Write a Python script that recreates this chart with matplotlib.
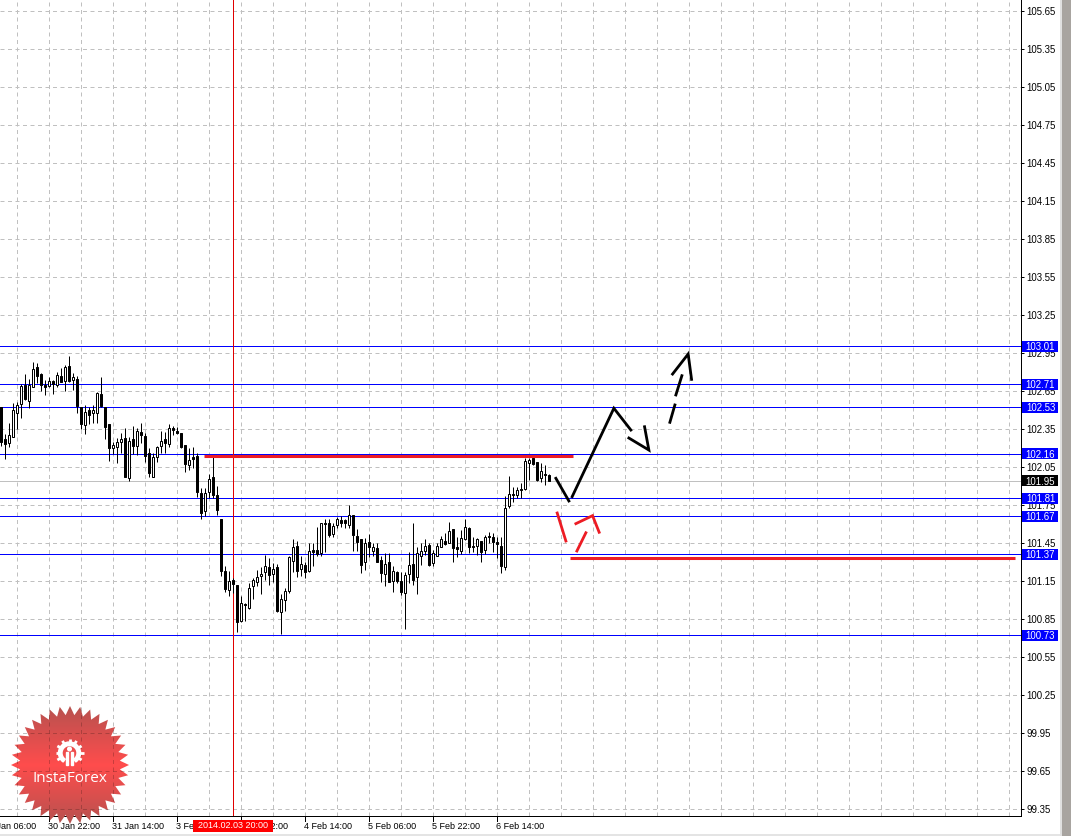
"""
USD/JPY H1 candles with support/resistance levels and forecast arrows
(MetaTrader style screenshot).
"""

import numpy as np
import matplotlib
matplotlib.use("Agg")
import matplotlib.pyplot as plt
from matplotlib.patches import Rectangle, Polygon, Wedge, Circle

# --- Data ---
candle_open = [102.529, 102.276, 102.250, 102.297, 102.487, 102.552, 102.705, 102.581, 102.692, 102.844,
               102.789, 102.705, 102.697, 102.734, 102.702, 102.773, 102.739, 102.852, 102.747, 102.750,
               102.529, 102.392, 102.505, 102.481, 102.487, 102.634, 102.529, 102.395, 102.205, 102.218,
               102.258, 102.289, 101.974, 102.279, 102.221, 102.331, 102.300, 102.166, 101.982, 102.140,
               102.226, 102.276, 102.242, 102.368, 102.342, 102.324, 102.229, 102.071, 102.137, 102.142,
               101.850, 101.713, 101.861, 101.976, 101.834, 101.645, 101.235, 101.090, 101.166, 101.124,
               100.838, 100.977, 100.948, 101.114, 101.153, 101.195, 101.227, 101.266, 101.211, 101.269,
               100.909, 101.006, 101.082, 101.319, 101.432, 101.251, 101.282, 101.240, 101.401, 101.401,
               101.382, 101.614, 101.614, 101.532, 101.603, 101.640, 101.640, 101.603, 101.677, 101.511,
               101.487, 101.306, 101.466, 101.398, 101.416, 101.322, 101.211, 101.306, 101.161, 101.227,
               101.156, 101.059, 101.209, 101.290, 101.185, 101.358, 101.395, 101.440, 101.303, 101.358,
               101.422, 101.471, 101.461, 101.566, 101.424, 101.398, 101.485, 101.574, 101.432, 101.437,
               101.471, 101.401, 101.514, 101.503, 101.464, 101.437, 101.264, 101.753, 101.842, 101.840,
               101.882, 101.884, 102.092, 102.126, 102.095, 101.974, 102.003, 101.992]
candle_high = [102.529, 102.318, 102.403, 102.560, 102.568, 102.710, 102.792, 102.750, 102.884, 102.876,
               102.802, 102.744, 102.765, 102.744, 102.805, 102.842, 102.863, 102.934, 102.797, 102.776,
               102.529, 102.545, 102.534, 102.547, 102.652, 102.765, 102.529, 102.395, 102.258, 102.284,
               102.324, 102.363, 102.292, 102.381, 102.363, 102.403, 102.324, 102.205, 102.166, 102.226,
               102.342, 102.337, 102.395, 102.384, 102.371, 102.329, 102.232, 102.210, 102.218, 102.166,
               101.890, 101.890, 102.000, 102.134, 101.908, 101.645, 101.272, 101.237, 101.180, 101.127,
               101.040, 100.982, 101.140, 101.180, 101.245, 101.266, 101.364, 101.337, 101.303, 101.293,
               101.053, 101.101, 101.351, 101.490, 101.474, 101.356, 101.311, 101.456, 101.456, 101.587,
               101.614, 101.648, 101.648, 101.614, 101.661, 101.671, 101.648, 101.758, 101.677, 101.569,
               101.490, 101.495, 101.529, 101.461, 101.456, 101.351, 101.382, 101.382, 101.279, 101.240,
               101.232, 101.232, 101.390, 101.614, 101.424, 101.456, 101.490, 101.456, 101.403, 101.456,
               101.516, 101.535, 101.621, 101.569, 101.508, 101.561, 101.648, 101.582, 101.508, 101.495,
               101.471, 101.521, 101.548, 101.535, 101.503, 101.503, 101.829, 101.987, 101.903, 101.903,
               101.929, 102.126, 102.126, 102.126, 102.100, 102.092, 102.074, 102.000]
candle_low = [102.224, 102.124, 102.218, 102.297, 102.358, 102.445, 102.587, 102.526, 102.692, 102.723,
              102.658, 102.626, 102.692, 102.631, 102.692, 102.726, 102.660, 102.731, 102.666, 102.487,
              102.360, 102.318, 102.397, 102.408, 102.403, 102.534, 102.279, 102.108, 102.161, 102.092,
              102.171, 101.982, 101.950, 102.158, 102.153, 102.245, 102.100, 101.982, 101.976, 102.100,
              102.166, 102.166, 102.213, 102.310, 102.316, 102.205, 102.021, 102.034, 102.047, 101.824,
              101.648, 101.674, 101.811, 101.811, 101.679, 101.198, 101.074, 101.035, 101.061, 100.756,
              100.832, 100.838, 100.940, 101.019, 101.114, 101.056, 101.166, 101.127, 101.153, 100.909,
              100.740, 100.917, 101.061, 101.232, 101.187, 101.198, 101.182, 101.232, 101.272, 101.351,
              101.351, 101.390, 101.503, 101.503, 101.579, 101.582, 101.574, 101.574, 101.395, 101.395,
              101.224, 101.245, 101.345, 101.356, 101.306, 101.153, 101.114, 101.148, 101.074, 101.140,
              101.043, 100.780, 101.140, 101.127, 101.053, 101.285, 101.364, 101.279, 101.277, 101.351,
              101.422, 101.443, 101.456, 101.311, 101.343, 101.372, 101.482, 101.377, 101.390, 101.364,
              101.311, 101.372, 101.456, 101.390, 101.337, 101.224, 101.245, 101.732, 101.779, 101.811,
              101.811, 101.877, 101.955, 102.074, 101.950, 101.942, 101.916, 101.950]
candle_close = [102.258, 102.242, 102.313, 102.505, 102.545, 102.697, 102.592, 102.702, 102.829, 102.779,
                102.702, 102.692, 102.739, 102.713, 102.781, 102.731, 102.844, 102.739, 102.765, 102.542,
                102.400, 102.489, 102.471, 102.505, 102.639, 102.539, 102.376, 102.210, 102.229, 102.253,
                102.276, 101.982, 102.260, 102.224, 102.339, 102.313, 102.147, 102.013, 102.134, 102.218,
                102.260, 102.250, 102.363, 102.353, 102.329, 102.216, 102.084, 102.111, 102.124, 101.861,
                101.695, 101.850, 101.961, 101.837, 101.721, 101.240, 101.098, 101.156, 101.130, 100.830,
                100.982, 100.964, 101.101, 101.164, 101.187, 101.211, 101.272, 101.201, 101.253, 100.924,
                101.014, 101.077, 101.343, 101.424, 101.240, 101.290, 101.232, 101.393, 101.390, 101.372,
                101.614, 101.608, 101.521, 101.592, 101.645, 101.619, 101.614, 101.682, 101.524, 101.469,
                101.287, 101.456, 101.422, 101.424, 101.308, 101.224, 101.290, 101.153, 101.235, 101.158,
                101.074, 101.206, 101.282, 101.169, 101.377, 101.393, 101.432, 101.287, 101.377, 101.432,
                101.490, 101.453, 101.550, 101.414, 101.411, 101.495, 101.582, 101.422, 101.427, 101.487,
                101.390, 101.503, 101.508, 101.469, 101.453, 101.272, 101.737, 101.842, 101.837, 101.877,
                101.877, 102.103, 102.111, 102.082, 101.955, 102.024, 101.997, 101.950]

level_prices = [103.01, 102.71, 102.53, 102.16, 101.81, 101.67, 101.37, 100.73]
last_price = 101.95

price_ticks = [105.65, 105.35, 105.05, 104.75, 104.45, 104.15, 103.85, 103.55, 103.25, 102.95, 102.65,
               102.35, 102.05, 101.75, 101.45, 101.15, 100.85, 100.55, 100.25, 99.95, 99.65, 99.35]
# the scale labels are rounded, the real grid prices sit a little above them
tick_offset = 0.007

time_tick_pos = [-4, 12, 28, 44, 60, 76, 92, 108, 124]
time_tick_labels = ["30 Jan 06:00", "30 Jan 22:00", "31 Jan 14:00", "3 Feb 06:00", "3 Feb 22:00",
                    "4 Feb 14:00", "5 Feb 06:00", "5 Feb 22:00", "6 Feb 14:00"]

cross_pos = 58
cross_label = "2014.02.03 20:00"

# hand drawn lines, (candle position, price)
red_top_x, red_top_y = [50.67, 142.9], [102.142, 102.142]
red_bottom_x, red_bottom_y = [142.17, 253.4], [101.336, 101.336]

black_strokes = [
    ([138.67, 141.92], [101.968, 101.789]),
    ([142.74, 153.17, 157.42], [101.823, 102.521, 102.349]),
    ([156.92, 161.92, 160.84], [102.286, 102.191, 102.375]),
    ([167.17, 168.42], [102.41, 102.547]),
    ([168.67, 170.17], [102.626, 102.778]),
    ([167.84, 171.74, 172.59], [102.791, 102.949, 102.749]),
]
red_strokes = [
    ([139.0, 141.17], [101.694, 101.473]),
    ([143.92, 146.17], [101.394, 101.538]),
    ([143.67, 147.84, 149.49], [101.61, 101.673, 101.542]),
]

# --- Figure layout (pixels) ---
W, H = 1071, 836
PLOT_R, PLOT_B = 1021, 816
BLUE = "#0000ff"
RED = "#ed1c24"
THIN = 0.72  # one pixel at dpi 100
FONT = "Liberation Sans"
GRID_DASH = (0, (4, 3.5))

fig = plt.figure(figsize=(W / 100, H / 100), dpi=100, facecolor="white")
ax = fig.add_axes([0, (H - PLOT_B) / H, PLOT_R / W, PLOT_B / H])
ax.set_xlim(-0.3, 254.95)
ax.set_ylim(99.302, 105.744)
ax.set_axisbelow(True)

for side in ["top", "left"]:
    ax.spines[side].set_visible(False)
for side in ["right", "bottom"]:
    ax.spines[side].set_linewidth(THIN)

# --- Grid and ticks ---
grid_x = np.arange(4, 255, 8)
grid_y = [v + tick_offset for v in price_ticks]
ax.yaxis.tick_right()
ax.set_yticks(grid_y)
ax.set_yticklabels([f"{v:.2f}" for v in price_ticks], fontsize=6.9, family=FONT)
ax.tick_params(axis="y", length=2.2, width=THIN, pad=1.8)
ax.set_xticks(grid_x)
ax.set_xticklabels([])
ax.tick_params(axis="x", length=0)
ax.grid(True, color="#c0c0c0", linewidth=THIN, linestyle=GRID_DASH)

for pos, label in zip(time_tick_pos, time_tick_labels):
    if pos >= 0:
        ax.plot([pos, pos], [0, -0.006], color="black", lw=THIN, transform=ax.get_xaxis_transform(), clip_on=False)
    ax.text(pos - 0.3, -0.0125, label, transform=ax.get_xaxis_transform(), ha="left", va="center",
            fontsize=6.5, family=FONT, clip_on=False)

# --- Levels ---
ax.axhline(last_price, color="#c0c0c0", lw=THIN, zorder=1)
for p in level_prices:
    ax.axhline(p, color=BLUE, lw=THIN, zorder=1.5)
ax.axvline(cross_pos, color="#e00000", lw=THIN, zorder=1.5)

# --- Candles ---
xs = np.arange(len(candle_open))
o = np.array(candle_open)
c = np.array(candle_close)
ax.vlines(xs, candle_low, candle_high, color="black", lw=THIN, zorder=2)
ax.bar(xs, np.abs(c - o), bottom=np.minimum(o, c), width=0.5,
       color=["white" if cl > op else "black" for op, cl in zip(o, c)],
       edgecolor="black", linewidth=THIN, zorder=3)

# --- Hand drawn lines ---
ax.plot(red_top_x, red_top_y, color=RED, lw=2.2, solid_capstyle="butt", zorder=4)
ax.plot(red_bottom_x, red_bottom_y, color=RED, lw=2.2, solid_capstyle="butt", zorder=4)
for sx, sy in black_strokes:
    ax.plot(sx, sy, color="black", lw=2.0, solid_joinstyle="miter", zorder=4)
for sx, sy in red_strokes:
    ax.plot(sx, sy, color=RED, lw=2.0, solid_joinstyle="miter", zorder=4)

# --- Price labels on the right ---
box_x0 = 1022 / PLOT_R
box_w = 36 / PLOT_R
box_h = 11 * (105.744 - 99.302) / PLOT_B
ytrans = ax.get_yaxis_transform()
for p in level_prices + [last_price]:
    col = "black" if p == last_price else BLUE
    ax.add_patch(Rectangle((box_x0, p - box_h / 2), box_w, box_h, transform=ytrans, facecolor=col,
                           edgecolor="none", clip_on=False, zorder=5))
    ax.text(1040.5 / PLOT_R, p, f"{p:.2f}", transform=ytrans, color="white", ha="center", va="center_baseline",
            fontsize=6.9, family=FONT, clip_on=False, zorder=6)

# --- Crosshair time label ---
ax.add_patch(Rectangle((193 / PLOT_R, -16 / PLOT_B), 80 / PLOT_R, 12 / PLOT_B, transform=ax.transAxes,
                       facecolor="#ff0000", edgecolor="none", clip_on=False, zorder=5))
ax.text(233 / PLOT_R, -10 / PLOT_B, cross_label, transform=ax.transAxes, color="white", ha="center", va="center",
        fontsize=6.5, family=FONT, clip_on=False, zorder=6)

# --- Window border strips ---
fig.add_artist(Rectangle((1060 / W, 0), 2 / W, 1, transform=fig.transFigure, facecolor="#e0e0e0", edgecolor="none"))
fig.add_artist(Rectangle((1062 / W, 0), 9 / W, 1, transform=fig.transFigure, facecolor="#a8a4a0", edgecolor="none"))
fig.add_artist(Rectangle((0, 0), 1060 / W, 2.5 / H, transform=fig.transFigure, facecolor="#e4e4e4", edgecolor="none"))

# --- InstaForex badge, in its own axes with pixel coordinates ---
bx0, by0, bw = 8, 703, 124
logo = fig.add_axes([bx0 / W, 1 - (by0 + bw) / H, bw / W, bw / H], zorder=10)
logo.axis("off")
cx, cy = 70, 765
n_spikes = 36
angles = np.linspace(0, 2 * np.pi, n_spikes * 2, endpoint=False)
radii = np.where(np.arange(n_spikes * 2) % 2 == 0, 59, 50)
logo.set_xlim(bx0, bx0 + bw)
logo.set_ylim(by0 + bw, by0)
star = Polygon(np.column_stack([cx + radii * np.sin(angles), cy - radii * np.cos(angles)]),
               closed=True, facecolor="none", edgecolor="none", transform=logo.transData)
logo.add_patch(star)
shade = np.abs(np.linspace(-1, 1, 120))[:, None]
top_col = np.array([0.72, 0.32, 0.31])
mid_col = np.array([1.00, 0.30, 0.30])
grad = mid_col + (top_col - mid_col) * shade[..., None]
im = logo.imshow(grad, extent=(bx0, bx0 + bw, cy + 59, cy - 59), aspect="auto", zorder=1)
im.set_clip_path(star)
logo.set_xlim(bx0, bx0 + bw)
logo.set_ylim(by0 + bw, by0)

# the chart grid shows through the badge as darker dashes
for gv in grid_x[:4]:
    ln, = logo.plot([gv, gv], [99.302, 100.4], transform=ax.transData, color="black", alpha=0.2, lw=THIN,
                    linestyle=GRID_DASH, zorder=1.5)
    ln.set_clip_path(star)
for gv in grid_y[-3:]:
    ln, = logo.plot([-0.3, 40], [gv, gv], transform=ax.transData, color="black", alpha=0.2, lw=THIN,
                    linestyle=GRID_DASH, zorder=1.5)
    ln.set_clip_path(star)

# gear icon (y is flipped here, so the gap at the bottom is around 90 degrees)
gx, gy = 69.5, 753
logo.add_patch(Wedge((gx, gy), 11, 125, 415, width=3.5, color="white", zorder=2))
for a in np.radians(np.arange(-30, 211, 30)):
    logo.plot([gx + 10 * np.cos(a), gx + 14 * np.cos(a)], [gy - 10 * np.sin(a), gy - 14 * np.sin(a)],
              color="white", lw=2.0, solid_capstyle="butt", zorder=2)
logo.add_patch(Circle((gx, gy - 4), 1.8, color="white", zorder=2))
logo.add_patch(Rectangle((gx - 3.5, gy - 1), 2.2, 13, color="white", zorder=2))
logo.add_patch(Rectangle((gx + 1.3, gy - 1), 2.2, 13, color="white", zorder=2))
logo.text(69.5, 779, "InstaForex", color="white", ha="center", va="center", fontsize=11.0,
          family="Open Sans", zorder=3)

fig.savefig("out.png", dpi=100)
